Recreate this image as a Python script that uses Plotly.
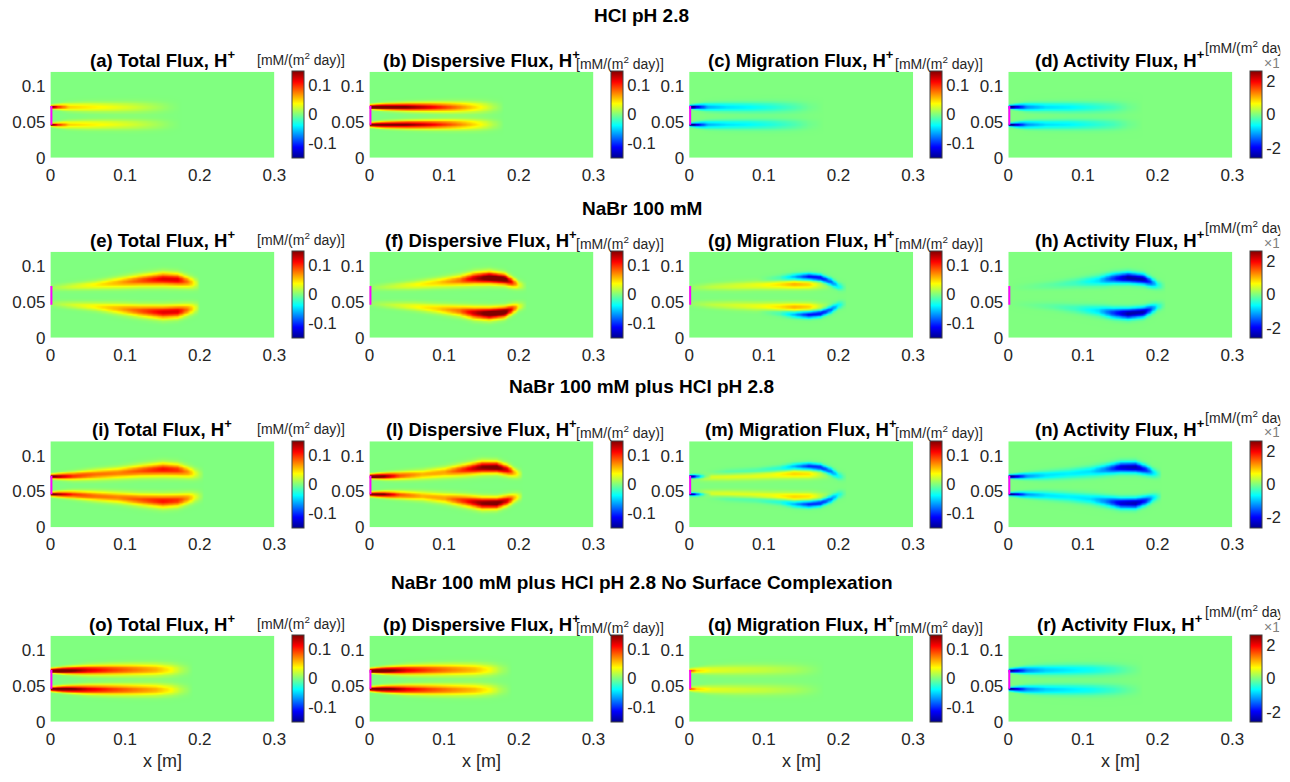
import numpy as np
import plotly.graph_objects as go

# ---------------- axis / tick data ----------------
X_TICKS = [0, 0.1, 0.2, 0.3]
X_TICKTEXT = ["0", "0.1", "0.2", "0.3"]
Y_TICKS = [0, 0.05, 0.1]
Y_TICKTEXT = ["0", "0.05", "0.1"]
X_RANGE = [0, 0.3]
Y_RANGE = [0, 0.12]
CB_FLUX_TICKS = [-0.1, 0, 0.1]
CB_FLUX_TEXT = ["-0.1", "0", "0.1"]
CB_FLUX_LIM = 0.15
CB_ACT_TICKS = [-2, 0, 2]
CB_ACT_TEXT = ["-2", "0", "2"]
CB_ACT_LIM = 2.6

ROW_TITLES = ["HCl pH 2.8", "NaBr 100 mM", "NaBr 100 mM plus HCl pH 2.8",
              "NaBr 100 mM plus HCl pH 2.8 No Surface Complexation"]
PANEL_TITLES = [
    "(a) Total Flux, H<sup>+</sup>", "(b) Dispersive Flux, H<sup>+</sup>",
    "(c) Migration Flux, H<sup>+</sup>", "(d) Activity Flux, H<sup>+</sup>",
    "(e) Total Flux, H<sup>+</sup>", "(f) Dispersive Flux, H<sup>+</sup>",
    "(g) Migration Flux, H<sup>+</sup>", "(h) Activity Flux, H<sup>+</sup>",
    "(i) Total Flux, H<sup>+</sup>", "(l) Dispersive Flux, H<sup>+</sup>",
    "(m) Migration Flux, H<sup>+</sup>", "(n) Activity Flux, H<sup>+</sup>",
    "(o) Total Flux, H<sup>+</sup>", "(p) Dispersive Flux, H<sup>+</sup>",
    "(q) Migration Flux, H<sup>+</sup>", "(r) Activity Flux, H<sup>+</sup>",
]
UNITS = "[mM/(m<sup>2</sup> day)]"
ACT_MULT = "×10<sup>-3</sup>"
X_LABEL = "x [m]"

INLET_X = [0, 0]
INLET_Y = [0.046, 0.072]
MID_Y = 0.059

# ---------------- plume data ----------------
# each plume: x stations, amplitude, offset from mid line, half-width
# Row 1 : HCl pH 2.8
a_x   = [0, 0.01, 0.025, 0.05, 0.08, 0.11, 0.14, 0.16, 0.175]
a_amp = [0.17, 0.10, 0.05, 0.042, 0.034, 0.024, 0.012, 0.004, 0]
a_off = [0.0125, 0.0125, 0.0123, 0.0122, 0.012, 0.012, 0.012, 0.012, 0.012]
a_sig = [0.0014, 0.0022, 0.0035, 0.0042, 0.0046, 0.005, 0.0052, 0.0052, 0.0052]

b_x   = [0, 0.02, 0.05, 0.08, 0.11, 0.13, 0.15, 0.165, 0.18]
b_amp = [0.22, 0.17, 0.15, 0.12, 0.085, 0.06, 0.035, 0.015, 0]
b_off = [0.0125, 0.0125, 0.0123, 0.0122, 0.012, 0.012, 0.012, 0.012, 0.012]
b_sig = [0.0018, 0.0028, 0.0035, 0.004, 0.0045, 0.0048, 0.005, 0.005, 0.005]

c_x   = [0, 0.01, 0.025, 0.05, 0.08, 0.11, 0.14, 0.16, 0.18]
c_amp = [-0.2, -0.12, -0.06, -0.045, -0.038, -0.028, -0.015, -0.005, 0]
c_off = [0.0125, 0.0125, 0.0123, 0.0122, 0.012, 0.012, 0.012, 0.012, 0.012]
c_sig = [0.0014, 0.0022, 0.0035, 0.0042, 0.0046, 0.005, 0.0052, 0.0052, 0.0052]

d_x   = [0, 0.01, 0.025, 0.05, 0.08, 0.11, 0.14, 0.16, 0.18]
d_amp = [-3.2, -2.2, -1.2, -0.8, -0.7, -0.5, -0.3, -0.1, 0]
d_off = [0.0125, 0.0125, 0.0123, 0.0122, 0.012, 0.012, 0.012, 0.012, 0.012]
d_sig = [0.0014, 0.0022, 0.0035, 0.0042, 0.0046, 0.005, 0.0052, 0.0052, 0.0052]

# Row 2 : NaBr 100 mM
e_x   = [0, 0.03, 0.06, 0.09, 0.12, 0.15, 0.17, 0.185, 0.2]
e_amp = [0.008, 0.025, 0.04, 0.06, 0.09, 0.12, 0.12, 0.07, 0]
e_off = [0.011, 0.013, 0.015, 0.018, 0.021, 0.023, 0.022, 0.019, 0.016]
e_sig = [0.003, 0.0035, 0.004, 0.005, 0.0055, 0.006, 0.0058, 0.0052, 0.005]

f_x   = [0, 0.03, 0.06, 0.09, 0.12, 0.14, 0.16, 0.18, 0.19, 0.2, 0.21]
f_amp = [0.005, 0.02, 0.035, 0.05, 0.08, 0.13, 0.17, 0.17, 0.11, 0.03, 0]
f_off = [0.011, 0.013, 0.015, 0.018, 0.021, 0.024, 0.025, 0.023, 0.019, 0.015, 0.013]
f_sig = [0.003, 0.0035, 0.004, 0.0045, 0.005, 0.0055, 0.0055, 0.005, 0.0045, 0.004, 0.004]

g1_x   = [0, 0.03, 0.06, 0.09, 0.12, 0.14, 0.16, 0.175, 0.19]
g1_amp = [0.005, 0.018, 0.025, 0.032, 0.045, 0.06, 0.05, 0.02, 0]
g1_off = [0.011, 0.0125, 0.0135, 0.0145, 0.0155, 0.016, 0.0155, 0.015, 0.014]
g1_sig = [0.003, 0.0035, 0.004, 0.004, 0.0042, 0.0042, 0.004, 0.0038, 0.0035]
g2_x   = [0.09, 0.12, 0.14, 0.16, 0.175, 0.19, 0.2, 0.21]
g2_amp = [0, -0.02, -0.06, -0.11, -0.11, -0.08, -0.035, 0]
g2_off = [0.021, 0.024, 0.026, 0.0265, 0.025, 0.019, 0.013, 0.011]
g2_sig = [0.003, 0.0032, 0.0033, 0.0033, 0.0033, 0.0035, 0.0035, 0.0035]

h_x   = [0, 0.03, 0.06, 0.09, 0.12, 0.14, 0.16, 0.18, 0.19, 0.2, 0.21]
h_amp = [0, -0.08, -0.18, -0.35, -0.8, -1.7, -2.5, -2.4, -1.6, -0.5, 0]
h_off = [0.011, 0.013, 0.015, 0.018, 0.021, 0.024, 0.025, 0.023, 0.019, 0.015, 0.013]
h_sig = [0.003, 0.0035, 0.004, 0.0045, 0.005, 0.005, 0.005, 0.0048, 0.0045, 0.004, 0.004]

# Row 3 : NaBr 100 mM plus HCl pH 2.8
i_x   = [0, 0.01, 0.03, 0.06, 0.09, 0.12, 0.15, 0.17, 0.185, 0.195, 0.205]
i_amp = [0.17, 0.14, 0.1, 0.08, 0.075, 0.09, 0.11, 0.1, 0.065, 0.025, 0]
i_off = [0.0125, 0.0125, 0.013, 0.015, 0.017, 0.02, 0.022, 0.021, 0.018, 0.016, 0.015]
i_sig = [0.0018, 0.0025, 0.0035, 0.0045, 0.005, 0.0055, 0.006, 0.0058, 0.0052, 0.005, 0.005]

l_x   = [0, 0.02, 0.04, 0.07, 0.1, 0.13, 0.15, 0.17, 0.185, 0.195, 0.205]
l_amp = [0.22, 0.15, 0.09, 0.06, 0.065, 0.11, 0.15, 0.16, 0.12, 0.05, 0]
l_off = [0.0125, 0.0128, 0.0135, 0.015, 0.018, 0.022, 0.025, 0.025, 0.021, 0.017, 0.015]
l_sig = [0.0018, 0.0028, 0.0035, 0.0042, 0.0048, 0.0053, 0.0055, 0.0052, 0.0048, 0.0042, 0.004]

m1_x   = [0, 0.01, 0.02, 0.03]
m1_amp = [-0.18, -0.09, -0.03, 0]
m1_off = [0.0125, 0.0125, 0.0125, 0.0125]
m1_sig = [0.0014, 0.0018, 0.002, 0.002]
m2_x   = [0, 0.02, 0.05, 0.08, 0.11, 0.14, 0.16, 0.175, 0.19]
m2_amp = [0, 0.025, 0.03, 0.03, 0.035, 0.05, 0.045, 0.02, 0]
m2_off = [0.011, 0.011, 0.012, 0.013, 0.0145, 0.016, 0.0155, 0.015, 0.014]
m2_sig = [0.0025, 0.003, 0.0035, 0.0038, 0.004, 0.0042, 0.004, 0.0038, 0.0035]
m3_x   = [0.02, 0.05, 0.09, 0.12, 0.14, 0.16, 0.175, 0.19, 0.2, 0.21]
m3_amp = [0, -0.015, -0.02, -0.03, -0.06, -0.1, -0.1, -0.075, -0.03, 0]
m3_off = [0.016, 0.018, 0.02, 0.023, 0.026, 0.0265, 0.025, 0.019, 0.013, 0.011]
m3_sig = [0.0025, 0.003, 0.003, 0.0032, 0.0033, 0.0033, 0.0033, 0.0035, 0.0035, 0.0035]

n_x   = [0, 0.01, 0.025, 0.05, 0.08, 0.11, 0.13, 0.15, 0.17, 0.185, 0.195, 0.205]
n_amp = [-3.0, -2.2, -1.2, -0.8, -0.7, -0.8, -1.3, -2.2, -2.4, -1.7, -0.7, 0]
n_off = [0.0125, 0.0125, 0.013, 0.014, 0.016, 0.019, 0.022, 0.025, 0.025, 0.021, 0.017, 0.015]
n_sig = [0.0015, 0.002, 0.003, 0.004, 0.0045, 0.005, 0.005, 0.005, 0.005, 0.0045, 0.004, 0.004]

# Row 4 : No surface complexation
o_x   = [0, 0.02, 0.05, 0.08, 0.11, 0.14, 0.16, 0.175, 0.19]
o_amp = [0.22, 0.17, 0.125, 0.1, 0.08, 0.062, 0.04, 0.015, 0]
o_off = [0.0128, 0.013, 0.0135, 0.0138, 0.014, 0.014, 0.014, 0.014, 0.014]
o_sig = [0.0018, 0.003, 0.0042, 0.0048, 0.0052, 0.0055, 0.0055, 0.0055, 0.0055]

p_x   = [0, 0.02, 0.05, 0.08, 0.11, 0.14, 0.16, 0.175, 0.19]
p_amp = [0.22, 0.17, 0.12, 0.095, 0.075, 0.058, 0.037, 0.013, 0]
p_off = [0.0128, 0.013, 0.0135, 0.0138, 0.014, 0.014, 0.014, 0.014, 0.014]
p_sig = [0.0018, 0.003, 0.0042, 0.0048, 0.0052, 0.0055, 0.0055, 0.0055, 0.0055]

q_x   = [0, 0.01, 0.03, 0.06, 0.1, 0.14, 0.16, 0.18]
q_amp = [0.1, 0.05, 0.03, 0.025, 0.02, 0.012, 0.006, 0]
q_off = [0.0128, 0.013, 0.0135, 0.0138, 0.014, 0.014, 0.014, 0.014]
q_sig = [0.0015, 0.0025, 0.004, 0.0048, 0.0052, 0.0055, 0.0055, 0.0055]

r_x   = [0, 0.01, 0.025, 0.05, 0.08, 0.11, 0.14, 0.16, 0.18]
r_amp = [-3.0, -2.2, -1.3, -0.9, -0.75, -0.6, -0.35, -0.15, 0]
r_off = [0.0128, 0.013, 0.0133, 0.0136, 0.0138, 0.014, 0.014, 0.014, 0.014]
r_sig = [0.0015, 0.0022, 0.0035, 0.0045, 0.005, 0.0053, 0.0055, 0.0055, 0.0055]

PANEL_PLUMES = [
    [(a_x, a_amp, a_off, a_sig)], [(b_x, b_amp, b_off, b_sig)],
    [(c_x, c_amp, c_off, c_sig)], [(d_x, d_amp, d_off, d_sig)],
    [(e_x, e_amp, e_off, e_sig)], [(f_x, f_amp, f_off, f_sig)],
    [(g1_x, g1_amp, g1_off, g1_sig), (g2_x, g2_amp, g2_off, g2_sig)],
    [(h_x, h_amp, h_off, h_sig)],
    [(i_x, i_amp, i_off, i_sig)], [(l_x, l_amp, l_off, l_sig)],
    [(m1_x, m1_amp, m1_off, m1_sig), (m2_x, m2_amp, m2_off, m2_sig),
     (m3_x, m3_amp, m3_off, m3_sig)],
    [(n_x, n_amp, n_off, n_sig)],
    [(o_x, o_amp, o_off, o_sig)], [(p_x, p_amp, p_off, p_sig)],
    [(q_x, q_amp, q_off, q_sig)], [(r_x, r_amp, r_off, r_sig)],
]

# ---------------- layout constants (pixels) ----------------
W, H = 1290, 782
COL_LEFT = [46, 369.3, 693.3, 1016.7]
PLOT_W = 227
ROW_TOP = [72.7, 255, 447, 644]
PLOT_H = 87
ROW_TITLE_Y = [16, 211, 392, 590]
XLABEL_Y = 771
CB_GAP = 17.5
CB_THICK = 12

JET = [[0.0, "rgb(0,0,143)"], [0.125, "rgb(0,0,255)"], [0.375, "rgb(0,255,255)"],
       [0.625, "rgb(255,255,0)"], [0.875, "rgb(255,0,0)"], [1.0, "rgb(128,0,0)"]]

TXT = "#262626"
FONT = "Liberation Sans, Arial, sans-serif"

xg = np.linspace(X_RANGE[0], X_RANGE[1], 181)
yg = np.linspace(Y_RANGE[0], Y_RANGE[1], 121)
YY = yg[:, None]


def build_field(plumes):
    z = np.zeros((len(yg), len(xg)))
    for px, pamp, poff, psig in plumes:
        A = np.interp(xg, px, pamp, left=0, right=0)[None, :]
        O = np.interp(xg, px, poff)[None, :]
        S = np.interp(xg, px, psig)[None, :]
        for sgn in (1, -1):
            z += A * np.exp(-((YY - (MID_Y + sgn * O)) ** 2) / (2 * S ** 2))
    return np.round(z, 4)


def px2x(p):
    return p / W


def px2y(p):
    return 1 - p / H


fig = go.Figure()
layout = {}
annotations = []

for k in range(16):
    r, c = divmod(k, 4)
    idx = k + 1
    xa = "x" if idx == 1 else f"x{idx}"
    ya = "y" if idx == 1 else f"y{idx}"
    left = COL_LEFT[c]
    right = left + PLOT_W
    top = ROW_TOP[r]
    bot = top + PLOT_H
    act = (c == 3)
    lim = CB_ACT_LIM if act else CB_FLUX_LIM
    z = build_field(PANEL_PLUMES[k])
    fig.add_trace(go.Heatmap(
        x=xg, y=yg, z=z, xaxis=xa, yaxis=ya,
        colorscale=JET, zmin=-lim, zmax=lim, zsmooth="best",
        hoverinfo="skip",
        colorbar=dict(
            x=px2x(right + CB_GAP), xanchor="left", xpad=0,
            y=px2y(top + PLOT_H / 2), yanchor="middle", ypad=0,
            len=PLOT_H, lenmode="pixels", thickness=CB_THICK,
            thicknessmode="pixels",
            tickvals=CB_ACT_TICKS if act else CB_FLUX_TICKS,
            ticktext=CB_ACT_TEXT if act else CB_FLUX_TEXT,
            tickfont=dict(size=16.5, color=TXT, family=FONT),
            outlinewidth=1, outlinecolor="#404040", ticks="",
        ),
    ))
    fig.add_trace(go.Scatter(
        x=INLET_X, y=INLET_Y, xaxis=xa, yaxis=ya, mode="lines",
        line=dict(color="#ff00ff", width=4), showlegend=False,
        hoverinfo="skip",
    ))
    layout["xaxis" if idx == 1 else f"xaxis{idx}"] = dict(
        domain=[px2x(left), px2x(right)], range=X_RANGE, anchor=ya,
        tickvals=X_TICKS, ticktext=X_TICKTEXT, showgrid=False,
        zeroline=False, ticks="", showline=False, ticklabelstandoff=5,
        tickfont=dict(size=17, color=TXT, family=FONT),
    )
    layout["yaxis" if idx == 1 else f"yaxis{idx}"] = dict(
        domain=[px2y(bot), px2y(top)], range=Y_RANGE, anchor=xa,
        tickvals=Y_TICKS, ticktext=Y_TICKTEXT, showgrid=False,
        zeroline=False, ticks="", showline=False, ticklabelstandoff=4,
        tickfont=dict(size=17, color=TXT, family=FONT),
    )
    # panel title
    ty = top - 13
    annotations.append(dict(
        text=f"<b>{PANEL_TITLES[k]}</b>", x=px2x((left + right) / 2),
        y=px2y(ty), xref="paper", yref="paper", showarrow=False,
        xanchor="center", yanchor="middle",
        font=dict(size=18.5, color="black", family=FONT)))
    # units label
    if c == 0:
        annotations.append(dict(
            text=UNITS, x=px2x(left + 207), y=px2y(ty), xref="paper",
            yref="paper", showarrow=False, xanchor="left", yanchor="middle",
            font=dict(size=14, color=TXT, family=FONT)))
    elif c == 1 or c == 2:
        annotations.append(dict(
            text=UNITS, x=px2x(left + 207), y=px2y(ty + 4), xref="paper",
            yref="paper", showarrow=False, xanchor="left", yanchor="middle",
            font=dict(size=14, color=TXT, family=FONT)))
    else:
        # clipped at the right edge of the figure, as in the original
        ux = left + 197
        annotations.append(dict(
            text=UNITS, x=px2x(ux), y=px2y(ty - 12), xref="paper",
            yref="paper", showarrow=False, xanchor="left", yanchor="middle",
            width=W - ux - 1, align="left",
            font=dict(size=14, color=TXT, family=FONT)))
        mx = left + 257
        annotations.append(dict(
            text=ACT_MULT, x=px2x(mx), y=px2y(ty + 3), xref="paper",
            yref="paper", showarrow=False, xanchor="left", yanchor="middle",
            width=W - mx - 1, align="left",
            font=dict(size=14, color="#808080", family=FONT)))
    if r == 3:
        annotations.append(dict(
            text=X_LABEL, x=px2x((left + right) / 2), y=px2y(XLABEL_Y),
            xref="paper", yref="paper", showarrow=False, xanchor="center",
            yanchor="middle", font=dict(size=18, color=TXT, family=FONT)))

for r in range(4):
    annotations.append(dict(
        text=f"<b>{ROW_TITLES[r]}</b>", x=0.5, y=px2y(ROW_TITLE_Y[r]),
        xref="paper", yref="paper", showarrow=False, xanchor="center",
        yanchor="middle", font=dict(size=19, color="black", family=FONT)))

fig.update_layout(
    width=W, height=H, margin=dict(l=0, r=0, t=0, b=0),
    paper_bgcolor="white", plot_bgcolor="white", showlegend=False,
    annotations=annotations, font=dict(family=FONT, color=TXT),
    **layout,
)

fig.write_html("out.html")
